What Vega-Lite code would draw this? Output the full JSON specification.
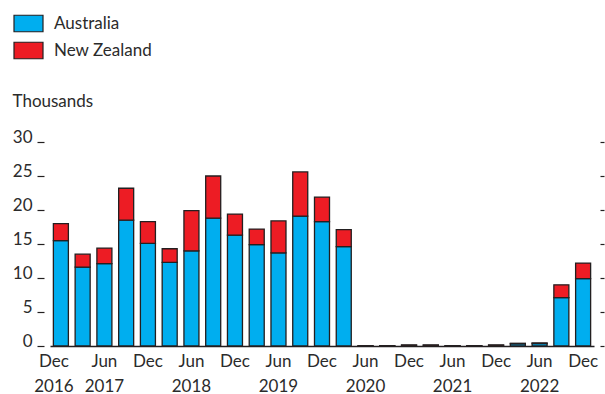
{
  "$schema": "https://vega.github.io/schema/vega-lite/v6.json",
  "width": 544,
  "height": 204,
  "autosize": {"type": "none"},
  "padding": {"left": 50, "top": 142, "right": 11, "bottom": 48},
  "background": "white",
  "config": {
    "view": {"stroke": null},
    "font": "Lato",
    "axis": {"labelFont": "Lato", "titleFont": "Lato", "labelColor": "#2b2b2b", "titleColor": "#2b2b2b"},
    "legend": {"labelFont": "Lato", "labelColor": "#2b2b2b"}
  },
  "data": {
    "values": [
      {"quarter": "Dec 2016", "country": "Australia", "value": 15.5},
      {"quarter": "Dec 2016", "country": "New Zealand", "value": 2.5},
      {"quarter": "Mar 2017", "country": "Australia", "value": 11.6},
      {"quarter": "Mar 2017", "country": "New Zealand", "value": 1.9},
      {"quarter": "Jun 2017", "country": "Australia", "value": 12.1},
      {"quarter": "Jun 2017", "country": "New Zealand", "value": 2.3},
      {"quarter": "Sep 2017", "country": "Australia", "value": 18.5},
      {"quarter": "Sep 2017", "country": "New Zealand", "value": 4.7},
      {"quarter": "Dec 2017", "country": "Australia", "value": 15.1},
      {"quarter": "Dec 2017", "country": "New Zealand", "value": 3.2},
      {"quarter": "Mar 2018", "country": "Australia", "value": 12.3},
      {"quarter": "Mar 2018", "country": "New Zealand", "value": 2.0},
      {"quarter": "Jun 2018", "country": "Australia", "value": 14.0},
      {"quarter": "Jun 2018", "country": "New Zealand", "value": 5.9},
      {"quarter": "Sep 2018", "country": "Australia", "value": 18.8},
      {"quarter": "Sep 2018", "country": "New Zealand", "value": 6.2},
      {"quarter": "Dec 2018", "country": "Australia", "value": 16.3},
      {"quarter": "Dec 2018", "country": "New Zealand", "value": 3.1},
      {"quarter": "Mar 2019", "country": "Australia", "value": 14.9},
      {"quarter": "Mar 2019", "country": "New Zealand", "value": 2.3},
      {"quarter": "Jun 2019", "country": "Australia", "value": 13.7},
      {"quarter": "Jun 2019", "country": "New Zealand", "value": 4.7},
      {"quarter": "Sep 2019", "country": "Australia", "value": 19.1},
      {"quarter": "Sep 2019", "country": "New Zealand", "value": 6.5},
      {"quarter": "Dec 2019", "country": "Australia", "value": 18.3},
      {"quarter": "Dec 2019", "country": "New Zealand", "value": 3.6},
      {"quarter": "Mar 2020", "country": "Australia", "value": 14.6},
      {"quarter": "Mar 2020", "country": "New Zealand", "value": 2.5},
      {"quarter": "Jun 2020", "country": "Australia", "value": 0.03},
      {"quarter": "Jun 2020", "country": "New Zealand", "value": 0.01},
      {"quarter": "Sep 2020", "country": "Australia", "value": 0.04},
      {"quarter": "Sep 2020", "country": "New Zealand", "value": 0.01},
      {"quarter": "Dec 2020", "country": "Australia", "value": 0.12},
      {"quarter": "Dec 2020", "country": "New Zealand", "value": 0.03},
      {"quarter": "Mar 2021", "country": "Australia", "value": 0.12},
      {"quarter": "Mar 2021", "country": "New Zealand", "value": 0.03},
      {"quarter": "Jun 2021", "country": "Australia", "value": 0.04},
      {"quarter": "Jun 2021", "country": "New Zealand", "value": 0.01},
      {"quarter": "Sep 2021", "country": "Australia", "value": 0.04},
      {"quarter": "Sep 2021", "country": "New Zealand", "value": 0.01},
      {"quarter": "Dec 2021", "country": "Australia", "value": 0.12},
      {"quarter": "Dec 2021", "country": "New Zealand", "value": 0.03},
      {"quarter": "Mar 2022", "country": "Australia", "value": 0.33},
      {"quarter": "Mar 2022", "country": "New Zealand", "value": 0.07},
      {"quarter": "Jun 2022", "country": "Australia", "value": 0.37},
      {"quarter": "Jun 2022", "country": "New Zealand", "value": 0.08},
      {"quarter": "Sep 2022", "country": "Australia", "value": 7.1},
      {"quarter": "Sep 2022", "country": "New Zealand", "value": 1.9},
      {"quarter": "Dec 2022", "country": "Australia", "value": 9.9},
      {"quarter": "Dec 2022", "country": "New Zealand", "value": 2.3}
    ]
  },
  "layer": [
    {
      "mark": {"type": "bar", "stroke": "#231f20", "strokeWidth": 1.3},
      "encoding": {
        "x": {
          "field": "quarter",
          "type": "ordinal",
          "sort": null,
          "scale": {"paddingInner": 0.31, "paddingOuter": 0.155},
          "axis": {
            "title": null,
            "ticks": false,
            "labelAngle": 0,
            "labelFontSize": 17,
            "labelLineHeight": 25,
            "labelPadding": 7,
            "labelBaseline": "top",
            "domain": true,
            "domainColor": "#231f20",
            "domainWidth": 1.5,
            "labelOffset": {"condition": {"test": "datum.value == 'Dec 2016'", "value": -7}, "value": 0},
            "labelExpr": "slice(datum.value,0,3) == 'Mar' || slice(datum.value,0,3) == 'Sep' ? '' : ((slice(datum.value,0,3) == 'Jun' || datum.value == 'Dec 2016') ? [slice(datum.value,0,3), slice(datum.value,4)] : slice(datum.value,0,3))"
          }
        },
        "y": {
          "field": "value",
          "type": "quantitative",
          "stack": "zero",
          "scale": {"domain": [0, 30], "nice": false},
          "axis": {
            "orient": "left",
            "values": [0, 5, 10, 15, 20, 25, 30],
            "offset": 6,
            "tickSize": 7,
            "tickWidth": 1.2,
            "tickColor": "#231f20",
            "domain": false,
            "grid": false,
            "labelFontSize": 17,
            "labelPadding": 5,
            "labelBaseline": "alphabetic",
            "title": "Thousands",
            "titleAngle": 0,
            "titleAlign": "left",
            "titleBaseline": "alphabetic",
            "titleFontSize": 17,
            "titleFontWeight": "normal",
            "titleX": -32,
            "titleY": -36
          }
        },
        "order": {"field": "country", "sort": "ascending"},
        "color": {
          "field": "country",
          "type": "nominal",
          "scale": {"domain": ["Australia", "New Zealand"], "range": ["#00aeef", "#ed1c24"]},
          "legend": {
            "title": null,
            "orient": "none",
            "legendX": -37,
            "legendY": -134,
            "symbolType": "M-1,-0.57H1V0.57H-1Z",
            "symbolSize": 841,
            "symbolStrokeColor": "#231f20",
            "symbolStrokeWidth": 1.2,
            "symbolOpacity": 1,
            "labelFontSize": 17,
            "labelOffset": 10,
            "rowPadding": -6
          }
        }
      }
    },
    {
      "mark": {"type": "rule", "opacity": 0},
      "encoding": {
        "y": {
          "datum": 0,
          "type": "quantitative",
          "axis": {
            "orient": "right",
            "values": [0, 5, 10, 15, 20, 25, 30],
            "offset": 6,
            "tickSize": 4,
            "tickWidth": 1.2,
            "tickColor": "#231f20",
            "domain": false,
            "grid": false,
            "labels": false,
            "title": null
          }
        }
      }
    }
  ],
  "resolve": {"axis": {"y": "independent"}}
}
